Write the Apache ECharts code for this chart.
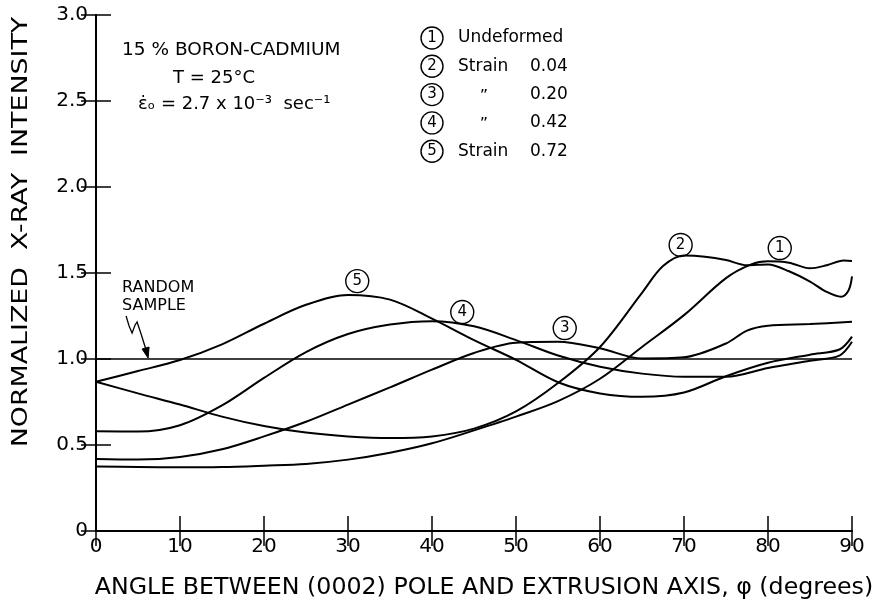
<!DOCTYPE html>
<html>
<head>
<meta charset="utf-8">
<script src="https://cdn.jsdelivr.net/npm/echarts@6/dist/echarts.min.js"></script>
<style>
  html, body { margin: 0; padding: 0; background: #fff; }
  #chart { width: 877px; height: 600px; }
</style>
</head>
<body>
<div id="chart"></div>
<script>
// angle phi (deg) and normalized intensity
const phi1 = [0, 5, 10, 15, 20, 25, 30, 35, 40, 45, 50, 55, 60, 65, 70, 75, 78, 80, 82.5, 85, 87, 89, 90];
const int1 = [0.375, 0.372, 0.37, 0.372, 0.38, 0.39, 0.415, 0.455, 0.51, 0.585, 0.665, 0.755, 0.885, 1.07, 1.255, 1.47, 1.55, 1.568, 1.56, 1.527, 1.545, 1.572, 1.57];

const phi2 = [0, 5, 10, 15, 20, 25, 30, 35, 40, 45, 50, 55, 60, 65, 67.5, 70, 72.5, 75, 77.5, 80, 82.5, 85, 87, 88.7, 89.6, 90];
const int2 = [0.868, 0.80, 0.735, 0.665, 0.61, 0.572, 0.55, 0.54, 0.55, 0.595, 0.695, 0.86, 1.07, 1.385, 1.54, 1.602, 1.595, 1.575, 1.545, 1.55, 1.51, 1.45, 1.39, 1.362, 1.40, 1.48];

const phi3 = [0, 5, 10, 15, 20, 25, 30, 35, 40, 45, 50, 55, 60, 65, 70, 75, 77.5, 80, 85, 90];
const int3 = [0.418, 0.415, 0.43, 0.475, 0.55, 0.635, 0.735, 0.835, 0.938, 1.035, 1.095, 1.10, 1.062, 1.003, 1.01, 1.09, 1.165, 1.193, 1.203, 1.217];

const phi4 = [0, 5, 10, 15, 20, 25, 30, 35, 40, 45, 50, 55, 60, 65, 70, 75, 80, 85, 88.5, 90];
const int4 = [0.58, 0.578, 0.615, 0.73, 0.89, 1.04, 1.145, 1.20, 1.22, 1.19, 1.11, 1.02, 0.955, 0.915, 0.897, 0.897, 0.948, 0.99, 1.02, 1.10];

const phi5 = [0, 5, 10, 15, 20, 25, 30, 35, 40, 45, 50, 55, 60, 65, 70, 75, 80, 85, 88.5, 90];
const int5 = [0.868, 0.93, 0.994, 1.085, 1.205, 1.315, 1.372, 1.345, 1.235, 1.11, 0.995, 0.865, 0.80, 0.78, 0.805, 0.90, 0.978, 1.025, 1.055, 1.13];

const randomPhi = [0, 90];
const randomInt = [1.0, 1.0];

// curve tags: number and where the circled tag sits (phi, intensity)
const tagNames = ['1', '2', '3', '4', '5'];
const tagPhi = [81.4, 69.6, 55.8, 43.6, 31.1];
const tagInt = [1.645, 1.663, 1.18, 1.273, 1.453];

// legend rows
const legendLabels = ['Undeformed', 'Strain', '\u201d', '\u201d', 'Strain'];
const legendStrain = ['', '0.04', '0.20', '0.42', '0.72'];

const FONT = 'DejaVu Sans';

function zip(xs, ys) {
  return xs.map(function (x, i) { return [x, ys[i]]; });
}

let chart = echarts.init(document.getElementById('chart'));

const curves = [[phi1, int1], [phi2, int2], [phi3, int3], [phi4, int4], [phi5, int5]];
let series = curves.map(function (c, i) {
  return {
    type: 'line',
    name: tagNames[i],
    data: zip(c[0], c[1]),
    smooth: 0.33,
    showSymbol: false,
    symbol: 'none',
    lineStyle: { color: '#000', width: 2 },
    markPoint: {
      silent: true,
      symbol: 'circle',
      symbolSize: 23,
      itemStyle: { color: 'rgba(0,0,0,0)', borderColor: '#000', borderWidth: 1.4 },
      label: { show: true, position: 'inside', formatter: tagNames[i], color: '#000', fontSize: 15, fontFamily: FONT },
      data: [{ coord: [tagPhi[i], tagInt[i]] }]
    }
  };
});
series.push({
  type: 'line',
  name: 'random',
  data: zip(randomPhi, randomInt),
  showSymbol: false,
  symbol: 'none',
  lineStyle: { color: '#000', width: 1.3 }
});

const axisLine = { show: true, lineStyle: { color: '#000', width: 2 } };
const tick = { show: true, inside: true, length: 15, lineStyle: { color: '#000', width: 1.5 } };

let option = {
  animation: false,
  backgroundColor: '#fff',
  grid: { left: 96, right: 25, top: 15, bottom: 69 },
  xAxis: [
    {
      type: 'value', min: 0, max: 90, interval: 10, position: 'bottom',
      axisLine: axisLine, axisTick: tick, splitLine: { show: false },
      axisLabel: { margin: 6, fontSize: 20, color: '#000', fontFamily: FONT }
    },
    {
      type: 'value', min: 0, max: 90, interval: 10, position: 'top',
      axisLine: axisLine, axisTick: tick, splitLine: { show: false },
      axisLabel: { show: false }
    }
  ],
  yAxis: [
    {
      type: 'value', min: 0, max: 3, interval: 0.5, position: 'left',
      axisLine: axisLine, axisTick: tick, splitLine: { show: false },
      axisLabel: {
        margin: 8, fontSize: 20, color: '#000', fontFamily: FONT,
        formatter: function (v) { return v === 0 ? '0' : v.toFixed(1); }
      }
    },
    {
      type: 'value', min: 0, max: 3, interval: 0.5, position: 'right',
      axisLine: axisLine, axisTick: tick, splitLine: { show: false },
      axisLabel: { show: false }
    }
  ],
  series: series
};

chart.setOption(option);

// annotations
let g = [];

g.push({
  type: 'text', x: 484, y: 588, scaleX: 1.03,
  style: { text: 'ANGLE BETWEEN (0002) POLE AND EXTRUSION AXIS, \u03c6 (degrees)', fill: '#000',
    font: '23px "' + FONT + '"', align: 'center', verticalAlign: 'middle' }
});
g.push({
  type: 'text', x: 21, y: 232, rotation: Math.PI / 2, scaleX: 1.22,
  style: { text: 'NORMALIZED  X-RAY  INTENSITY', fill: '#000',
    font: '22px "' + FONT + '"', align: 'center', verticalAlign: 'middle' }
});

// sample description
g.push({ type: 'text', x: 122, y: 50,
  style: { text: '15 % BORON-CADMIUM', fill: '#000', font: '18.5px "' + FONT + '"', align: 'left', verticalAlign: 'middle' } });
g.push({ type: 'text', x: 214, y: 78,
  style: { text: 'T = 25\u00b0C', fill: '#000', font: '18px "' + FONT + '"', align: 'center', verticalAlign: 'middle' } });
g.push({ type: 'text', x: 138, y: 104,
  style: { text: '\u03b5\u0307\u2092 = 2.7 x 10\u207b\u00b3  sec\u207b\u00b9', fill: '#000', font: '18px "' + FONT + '"', align: 'left', verticalAlign: 'middle' } });

// legend rows
for (let i = 0; i < 5; i++) {
  const cy = 38 + 28.3 * i;
  g.push({ type: 'circle', shape: { cx: 432, cy: cy, r: 11 },
    style: { fill: 'none', stroke: '#000', lineWidth: 1.4 } });
  g.push({ type: 'text', x: 432, y: cy,
    style: { text: tagNames[i], fill: '#000', font: '15px "' + FONT + '"', align: 'center', verticalAlign: 'middle' } });
  if (legendLabels[i] === '\u201d') {
    g.push({ type: 'text', x: 484, y: cy + 2,
      style: { text: legendLabels[i], fill: '#000', font: '16px "' + FONT + '"', align: 'center', verticalAlign: 'middle' } });
  } else {
    g.push({ type: 'text', x: 458, y: cy,
      style: { text: legendLabels[i], fill: '#000', font: '17px "' + FONT + '"', align: 'left', verticalAlign: 'middle' } });
  }
  if (legendStrain[i]) {
    g.push({ type: 'text', x: 530, y: cy,
      style: { text: legendStrain[i], fill: '#000', font: '17px "' + FONT + '"', align: 'left', verticalAlign: 'middle' } });
  }
}

// "RANDOM SAMPLE" pointer to the 1.0 line
const tip = chart.convertToPixel({ xAxisIndex: 0, yAxisIndex: 0 }, [6.2, 1.0]);
const tx = tip[0], ty = tip[1];
g.push({ type: 'text', x: tx - 26, y: ty - 80,
  style: { text: 'RANDOM\nSAMPLE', fill: '#000', font: '16px "' + FONT + '"', lineHeight: 18, align: 'left', verticalAlign: 'top' } });
g.push({ type: 'polyline',
  shape: { points: [[tx - 22, ty - 43], [tx - 19, ty - 33], [tx - 16, ty - 26], [tx - 13, ty - 34], [tx - 11, ty - 37],
                    [tx - 9, ty - 31], [tx - 7, ty - 25], [tx - 1, ty - 6]] },
  style: { fill: 'none', stroke: '#000', lineWidth: 1.3 } });
g.push({ type: 'polygon',
  shape: { points: [[tx, ty - 1], [tx - 6, ty - 10], [tx + 1, ty - 12]] },
  style: { fill: '#000', stroke: '#000', lineWidth: 1 } });

chart.setOption({ graphic: g });
</script>
</body>
</html>
